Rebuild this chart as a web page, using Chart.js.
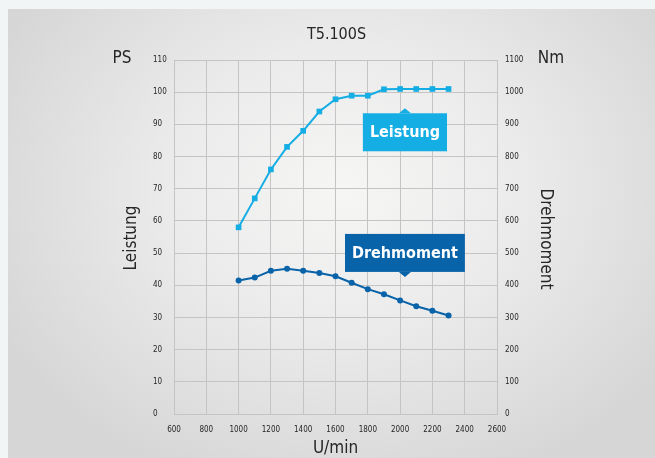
<!DOCTYPE html>
<html>
<head>
<meta charset="utf-8">
<script src="https://cdn.jsdelivr.net/npm/chart.js@4/dist/chart.umd.min.js"></script>
<style>
  html, body { margin: 0; padding: 0; width: 655px; height: 458px; overflow: hidden; background: #f2f5f6; }
  #panel {
    position: absolute; left: 8px; top: 9px; width: 647px; height: 449px;
    background: radial-gradient(ellipse 60% 70% at 52% 40%, #f6f6f5 0%, #ebebeb 45%, #d6d6d6 100%);
  }
  #chart { position: absolute; left: 0; top: 0; }
</style>
</head>
<body>
<div id="panel"></div>
<canvas id="chart" width="655" height="458"></canvas>
<script>
  const TITLE = "T5.100S";
  const RPM = [1000, 1100, 1200, 1300, 1400, 1500, 1600, 1700, 1800, 1900, 2000, 2100, 2200, 2300];
  const LEISTUNG_PS = [58, 67, 76, 83, 88, 94, 97.8, 98.9, 98.9, 100.9, 101, 101, 101, 101];
  const DREHMOMENT_NM = [415, 424, 445, 451, 445, 438, 428, 408, 388, 372, 353, 335, 321, 306];

  const X_MIN = 600, X_MAX = 2600, X_STEP = 200;
  const PS_MAX = 110, PS_STEP = 10;
  const NM_MAX = 1100, NM_STEP = 100;

  // callout anchors (data units): rpm, PS value at the pointer tip
  const CALLOUTS = [
    { text: "Leistung", rpm: 2030, ps: 95, up: true, color: "#14ade4" },
    { text: "Drehmoment", rpm: 2030, ps: 42.6, up: false, color: "#0863a9" },
  ];

  const C_LEISTUNG = "#14ade4";
  const C_DREH = "#0863a9";
  const GRID = "#c4c4c4";
  const TEXT = "#262626";
  const TICK_FONT = { family: "'DejaVu Sans Condensed', 'DejaVu Sans', sans-serif", size: 8 };
  const LABEL_FAMILY = "'DejaVu Sans Condensed', 'DejaVu Sans', sans-serif";
  const plain = (v) => String(v);

  const overlay = {
    id: "overlay",
    afterDraw(chart) {
      const ctx = chart.ctx;
      const x = chart.scales.x, y = chart.scales.y;
      const mid = (chart.chartArea.left + chart.chartArea.right) / 2;
      ctx.save();
      ctx.fillStyle = TEXT;
      ctx.textBaseline = "middle";
      ctx.textAlign = "center";
      ctx.font = `16px ${LABEL_FAMILY}`;
      ctx.fillText(TITLE, mid + 1, 35);

      ctx.font = `17px ${LABEL_FAMILY}`;
      ctx.fillText("PS", 122, 59);
      ctx.fillText("Nm", 551, 59);
      ctx.fillText("U/min", mid, 449);

      ctx.save();
      ctx.translate(132, 238);
      ctx.rotate(-Math.PI / 2);
      ctx.fillText("Leistung", 0, 0);
      ctx.restore();

      ctx.save();
      ctx.translate(545, 239);
      ctx.rotate(Math.PI / 2);
      ctx.fillText("Drehmoment", 0, 0);
      ctx.restore();

      ctx.font = `bold 16px ${LABEL_FAMILY}`;
      CALLOUTS.forEach((c) => {
        const px = x.getPixelForValue(c.rpm);
        const tip = y.getPixelForValue(c.ps);
        const w = ctx.measureText(c.text).width + 14;
        const h = 38, tri = 6;
        const top = c.up ? tip + tri - 1 : tip - tri + 1 - h;
        ctx.fillStyle = c.color;
        ctx.fillRect(px - w / 2, top, w, h);
        ctx.beginPath();
        if (c.up) {
          ctx.moveTo(px - tri, top); ctx.lineTo(px, tip); ctx.lineTo(px + tri, top);
        } else {
          ctx.moveTo(px - tri, top + h); ctx.lineTo(px, tip); ctx.lineTo(px + tri, top + h);
        }
        ctx.closePath();
        ctx.fill();
        ctx.fillStyle = "#ffffff";
        ctx.fillText(c.text, px, top + h / 2 + 1);
      });
      ctx.restore();
    },
  };

  new Chart(document.getElementById("chart"), {
    type: "line",
    data: {
      datasets: [
        {
          label: "Leistung",
          data: RPM.map((r, i) => ({ x: r, y: LEISTUNG_PS[i] })),
          yAxisID: "y",
          borderColor: C_LEISTUNG,
          backgroundColor: C_LEISTUNG,
          borderWidth: 2,
          pointStyle: "rect",
          pointRadius: 4,
          pointBorderWidth: 0,
          tension: 0,
        },
        {
          label: "Drehmoment",
          data: RPM.map((r, i) => ({ x: r, y: DREHMOMENT_NM[i] })),
          yAxisID: "y1",
          borderColor: C_DREH,
          backgroundColor: C_DREH,
          borderWidth: 2,
          pointStyle: "circle",
          pointRadius: 3,
          pointBorderWidth: 0,
          tension: 0,
        },
      ],
    },
    options: {
      responsive: false,
      animation: false,
      layout: { padding: { left: 153, top: 60, right: 0, bottom: 0 } },
      plugins: { legend: { display: false }, tooltip: { enabled: false }, title: { display: false } },
      scales: {
        x: {
          type: "linear",
          min: X_MIN, max: X_MAX,
          ticks: { stepSize: X_STEP, color: TEXT, font: TICK_FONT, padding: 11, maxRotation: 0, callback: plain },
          grid: { color: GRID, drawTicks: false, lineWidth: 1 },
          border: { color: GRID },
          afterFit: (s) => { s.height = 44; },
        },
        y: {
          position: "left",
          min: 0, max: PS_MAX,
          ticks: { stepSize: PS_STEP, color: TEXT, font: TICK_FONT, crossAlign: "far", padding: 0, callback: plain },
          grid: { color: GRID, drawTicks: false, lineWidth: 1 },
          border: { color: GRID },
          afterFit: (s) => { s.width = 21; },
        },
        y1: {
          position: "right",
          min: 0, max: NM_MAX,
          ticks: { stepSize: NM_STEP, color: TEXT, font: TICK_FONT, padding: 8, callback: plain },
          grid: { drawOnChartArea: false, drawTicks: false },
          border: { color: GRID },
          afterFit: (s) => { s.width = 158; },
        },
      },
    },
    plugins: [overlay],
  });
</script>
</body>
</html>
